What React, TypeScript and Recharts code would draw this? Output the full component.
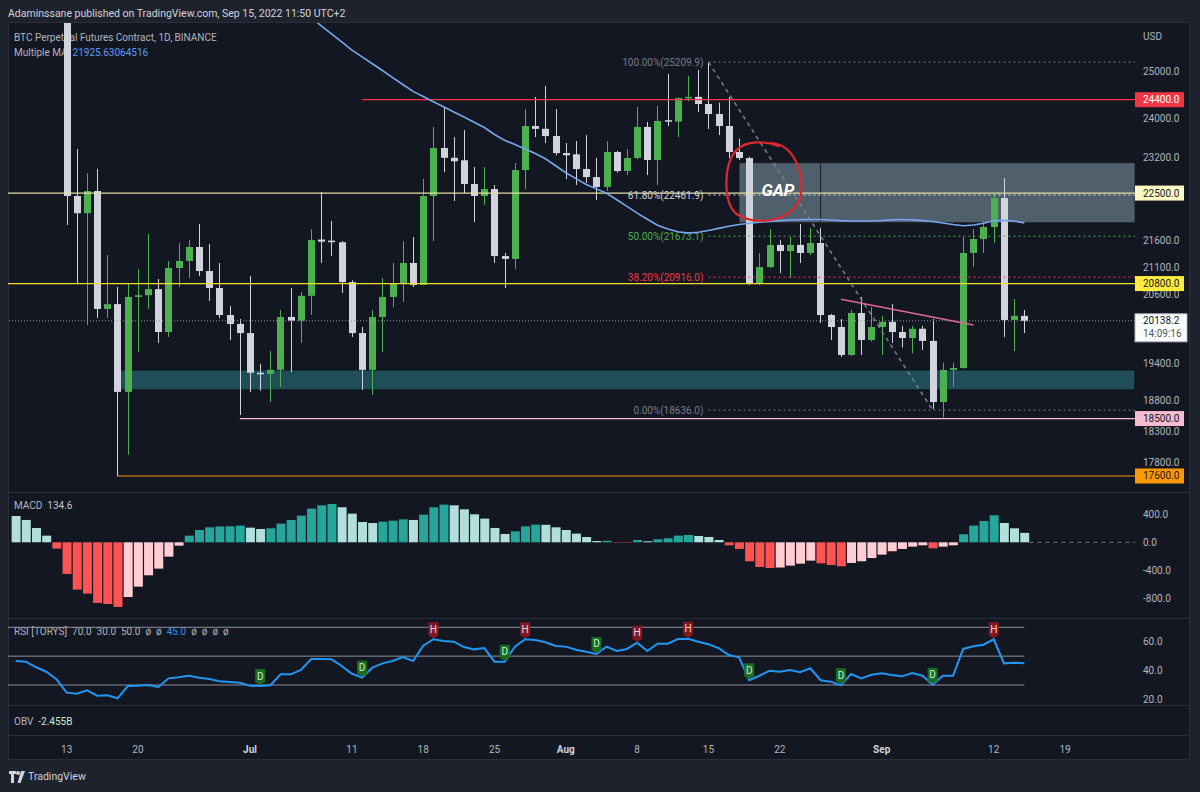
import React from "react";
import {
  ComposedChart,
  Bar,
  Line,
  XAxis,
  YAxis,
  ReferenceLine,
  ReferenceArea,
  ReferenceDot,
  Cell,
} from "recharts";

// one slot per day, slot 0 = 8 Jun 2022, candles start at 13 Jun (slot 5)
const candleStart = 5;

const opens = [
  26574, 22443, 22110, 22540, 20347, 20432, 18933, 20560, 20590, 20700, 19943, 21083, 21212, 21471, 21028,
  20720, 20240, 20083, 19925, 19250, 19230, 19300, 20205, 20140, 20580, 21610, 21590, 21560, 20827, 19925,
  19298, 20205, 20560, 20810, 21176, 20775, 22443, 23397, 23200, 23150, 22677, 22443, 22579, 21303, 21250,
  22954, 23849, 23790, 23642, 23295, 23270, 22975, 22814, 22620, 23317, 22935, 23195, 23830, 23155, 23970,
  23940, 24430, 24460, 24309, 24099, 23849, 23317, 23195, 20810, 21100, 21510, 21395, 21510, 21360, 21546,
  20240, 20030, 19550, 20275, 19805, 20030, 20120, 19943, 19840, 20000, 19790, 18767, 19298, 19330, 21360,
  21620, 21847, 22403, 20153, 20225,
];
const highs = [
  26895, 23378, 22895, 22975, 21322, 20738, 20810, 21065, 21715, 20883, 21212, 21546, 21600, 21905, 21525,
  21176, 20400, 20170, 20938, 19400, 19616, 20328, 20720, 20648, 21808, 22520, 21962, 21580, 20860, 20030,
  20328, 20900, 21176, 21580, 21658, 22776, 23828, 24245, 23620, 23765, 23015, 23015, 22660, 21360, 23095,
  24203, 24457, 24692, 24203, 23500, 23540, 23662, 23200, 23540, 23340, 23380, 24245, 23933, 24268, 24950,
  24450, 24907, 25037, 25210, 24340, 24457, 23590, 23220, 21360, 21808, 21600, 21658, 21905, 21827, 21827,
  20260, 20170, 20328, 20560, 20380, 20225, 20432, 20050, 20050, 20050, 20170, 19420, 19420, 21658, 21808,
  21960, 22500, 22795, 20523, 20328,
];
const lows = [
  21885, 20810, 20065, 20188, 20188, 17600, 17925, 19600, 20347, 19755, 19858, 20738, 20900, 20938, 20488,
  20188, 19805, 18558, 18933, 18950, 18767, 19015, 19263, 19755, 20240, 21176, 21303, 20631, 19858, 18966,
  18883, 19600, 20380, 20470, 20738, 20770, 21580, 22915, 22345, 22500, 21943, 22268, 21176, 20720, 21065,
  22579, 23620, 23500, 23250, 22776, 22660, 22700, 22365, 22540, 22900, 22855, 23170, 22855, 22660, 23849,
  23620, 24370, 24140, 23787, 23662, 23195, 23155, 20775, 20775, 21080, 20990, 20900, 21176, 21322, 20100,
  19805, 19515, 19530, 19550, 19780, 19550, 19755, 19675, 19580, 19636, 18650, 18517, 19015, 19320, 21100,
  21360, 21546, 19858, 19616, 19925,
];
const closes = [
  22443, 22110, 22540, 20347, 20432, 18933, 20560, 20590, 20700, 19943, 21083, 21212, 21471, 21028, 20720,
  20240, 20083, 19925, 19250, 19230, 19300, 20205, 20140, 20580, 21600, 21570, 21560, 20827, 19925, 19298,
  20205, 20560, 20810, 21176, 20775, 22443, 23397, 23200, 23130, 22677, 22443, 22579, 21303, 21250, 22954,
  23849, 23790, 23642, 23295, 23250, 22975, 22814, 22620, 23317, 22935, 23195, 23830, 23155, 23953, 23940,
  24435, 24460, 24309, 24099, 23849, 23317, 23195, 20810, 21100, 21510, 21395, 21510, 21360, 21546, 20240,
  20030, 19550, 20275, 19805, 20030, 20120, 19943, 19840, 20000, 19790, 18767, 19298, 19330, 21360, 21620,
  21847, 22403, 20153, 20225, 20138,
];

// Multiple MA, from slot 28 (6 Jul)
const maStart = 28;
const maValues = [
  26383, 26198, 26016, 25836, 25658, 25473, 25323, 25174, 25026, 24874, 24724, 24576, 24467, 24357, 24250,
  24142, 24035, 23927, 23817, 23674, 23554, 23467, 23378, 23285, 23180, 23040, 22900, 22783, 22667, 22582,
  22495, 22371, 22242, 22113, 21994, 21881, 21811, 21758, 21732, 21749, 21780, 21821, 21862, 21893, 21918,
  21937, 21952, 21968, 21980, 21987, 21991, 21989, 21980, 21968, 21961, 21961, 21961, 21970, 21983, 21991,
  21983, 21968, 21952, 21924, 21893, 21872, 21886, 21918, 21964, 21973, 21961, 21926,
];

// MACD histogram, slot 0..99
const macdHist = [
  376, 319, 205, 95, -90, -452, -676, -733, -866, -881, -923, -781, -633, -471, -376, -205, -48, 95, 176, 214,
  226, 229, 238, 209, 190, 200, 267, 319, 381, 481, 528, 547, 500, 409, 290, 276, 295, 309, 328, 319,
  395, 500, 538, 528, 471, 400, 338, 205, 119, 157, 228, 252, 250, 214, 176, 124, 76, 18, 22, -5,
  -6, 33, 14, 43, 57, 95, 105, 90, 76, 33, -43, -95, -271, -352, -367, -360, -333, -305, -262, -300,
  -324, -343, -295, -271, -224, -176, -128, -95, -62, -43, -86, -62, -43, 114, 238, 305, 386, 276, 200, 135,
];

// RSI [TORYS], slot 0..99
const rsiValues = [
  46.6, 46.2, 42.3, 39.2, 34.0, 24.7, 24.0, 26.3, 22.6, 22.9, 20.8, 29.3, 29.5, 30.0, 28.6, 34.6, 35.3, 36.4,
  35.1, 34.2, 32.6, 32.1, 31.6, 29.5, 29.3, 29.8, 37.4, 37.4, 40.4, 48.0, 48.0, 47.8, 43.2, 37.8, 35.1, 42.0,
  45.0, 46.6, 49.4, 46.6, 57.3, 61.7, 60.5, 60.0, 56.3, 54.7, 55.6, 46.2, 46.2, 56.6, 61.7, 61.2, 59.6, 57.0,
  56.6, 54.5, 53.1, 51.5, 56.6, 53.6, 55.0, 59.3, 53.6, 58.6, 58.6, 61.9, 62.1, 60.0, 58.2, 55.6, 50.8, 49.2,
  33.3, 36.4, 39.9, 39.2, 40.4, 38.8, 41.6, 33.3, 32.3, 29.8, 37.6, 34.6, 37.1, 38.1, 36.9, 36.0, 38.3, 36.4,
  30.2, 36.4, 36.4, 55.0, 56.8, 57.9, 61.7, 45.0, 45.5, 45.0,
];
const rsiHighs = [41, 50, 61, 66, 96];
const rsiDips = [24, 34, 48, 57, 72, 81, 90];

const xTickIdx = [5, 12, 23, 33, 40, 47, 54, 61, 68, 75, 85, 96, 103];
const xTickLabels = ["13", "20", "Jul", "11", "18", "25", "Aug", "8", "15", "22", "Sep", "12", "19"];

const priceTicks = [25000, 24000, 23200, 21600, 21100, 20600, 19400, 18800, 18300, 17800];
const levels = [24400, 22500, 20800, 18500, 17600];
const lastPrice = 20138.2;
const countdown = "14:09:16";

const fibValues = [25209.9, 22461.9, 21673.1, 20916.0, 18636.0];
const fibRatios = ["100.00%", "61.80%", "50.00%", "38.20%", "0.00%"];

const macdTicks = [400, 0, -400, -800];
const rsiTicks = [60, 40, 20];

// layout / style
const X_MIN = -0.756;
const X_MAX = 109.865;
const PRICE_DOMAIN = [17357, 26080];
const FONT = "Roboto, 'Liberation Sans', sans-serif";
const BG = "#131722";
const OUTER = "#1e222d";
const LINE = "#2a2e39";
const TEXT = "#b2b5be";
const UP = "#4caf50";
const DOWN = "#d1d4dc";

const levelStyle: Record<number, { line: string; bg: string; fg: string; from: number }> = {
  24400: { line: "#f23645", bg: "#f23645", fg: "#ffffff", from: 34 },
  22500: { line: "#e3dfa6", bg: "#fff9c4", fg: "#131722", from: X_MIN },
  20800: { line: "#f2dd2e", bg: "#ffeb3b", fg: "#131722", from: X_MIN },
  18500: { line: "#f8bbd0", bg: "#f8bbd0", fg: "#131722", from: 22 },
  17600: { line: "#ff9800", bg: "#ff9800", fg: "#131722", from: 10 },
};
const fibColors = ["#787b86", "#d1d4dc", "#4caf50", "#f23645", "#787b86"];

const rows = Array.from({ length: 110 }, (_, i) => {
  const k = i - candleStart;
  const has = k >= 0 && k < opens.length;
  const m = i - maStart;
  return {
    i,
    o: has ? opens[k] : null,
    h: has ? highs[k] : null,
    l: has ? lows[k] : null,
    c: has ? closes[k] : null,
    range: has ? [lows[k], highs[k]] : null,
    ma: m >= 0 && m < maValues.length ? maValues[m] : null,
    macd: i < macdHist.length ? macdHist[i] : null,
    rsi: i < rsiValues.length ? rsiValues[i] : null,
  };
});

function histColor(i: number) {
  const v = macdHist[i];
  const prev = i > 0 ? macdHist[i - 1] : v;
  if (v >= 0) return v > prev ? "#26a69a" : "#b2dfdb";
  return v < prev ? "#ff5252" : "#ffcdd2";
}

function Candle(props: any) {
  const { x, y, width, height, payload } = props;
  if (!payload || payload.o == null) return <g />;
  const { o, h, l, c } = payload;
  const span = Math.log(h) - Math.log(l);
  const k = span > 0 ? height / span : 0;
  const py = (p: number) => y + (Math.log(h) - Math.log(p)) * k;
  const cx = Math.round(x + width / 2);
  const col = c > o ? UP : DOWN;
  const top = py(Math.max(o, c));
  const bot = py(Math.min(o, c));
  return (
    <g>
      <line x1={cx + 0.5} x2={cx + 0.5} y1={y} y2={y + height} stroke={col} strokeWidth={1} />
      <rect x={cx - 3} y={top} width={7} height={Math.max(1.5, bot - top)} fill={col} />
    </g>
  );
}

function PriceTick(props: any) {
  const { x, y, payload } = props;
  const v = payload.value as number;
  if (v === lastPrice) {
    return (
      <g>
        <rect x={x - 8} y={y - 7} width={52} height={28} fill="#ffffff" stroke="#b2b5be" />
        <text x={x} y={y + 3.5} fill="#131722" fontSize={10} fontFamily={FONT}>{v.toFixed(1)}</text>
        <text x={x} y={y + 16.5} fill="#50535e" fontSize={10} fontFamily={FONT}>{countdown}</text>
      </g>
    );
  }
  const st = levelStyle[v];
  if (st) {
    return (
      <g>
        <rect x={x - 8} y={y - 7.5} width={49} height={15} fill={st.bg} />
        <text x={x} y={y + 3.5} fill={st.fg} fontSize={10} fontFamily={FONT}>{v.toFixed(1)}</text>
      </g>
    );
  }
  return (
    <text x={x} y={y + 3.5} fill={TEXT} fontSize={10} fontFamily={FONT}>{v.toFixed(1)}</text>
  );
}

function PlainTick(props: any) {
  const { x, y, payload } = props;
  return (
    <text x={x} y={y + 3.5} fill={TEXT} fontSize={10} fontFamily={FONT}>
      {Number(payload.value).toFixed(1)}
    </text>
  );
}

function DateTick(props: any) {
  const { x, y, payload } = props;
  const label = xTickLabels[xTickIdx.indexOf(payload.value)];
  const month = isNaN(Number(label));
  return (
    <text x={x} y={y + 47} textAnchor="middle" fill={month ? "#d1d4dc" : TEXT}
      fontWeight={month ? 700 : 400} fontSize={10} fontFamily={FONT}>
      {label}
    </text>
  );
}

function FibLabel(props: any) {
  const { viewBox, text, color } = props;
  if (!viewBox) return null;
  return (
    <text x={viewBox.x - 5} y={viewBox.y + 3.5} textAnchor="end" fill={color} fontSize={10} fontFamily={FONT}>
      {text}
    </text>
  );
}

function GapMark(props: any) {
  const { cx, cy } = props;
  const d = `M${cx + 6},${cy - 41} C${cx + 30},${cy - 40} ${cx + 40},${cy - 10} ${cx + 36},${cy + 12}
    C${cx + 30},${cy + 36} ${cx - 6},${cy + 44} ${cx - 28},${cy + 30}
    C${cx - 42},${cy + 18} ${cx - 41},${cy - 20} ${cx - 28},${cy - 34}
    C${cx - 18},${cy - 44} ${cx + 2},${cy - 43} ${cx + 14},${cy - 38}`;
  return (
    <g>
      <path d={d} fill="none" stroke="#e0262e" strokeWidth={2.2} strokeLinecap="round" />
      <text x={cx - 3} y={cy + 12} fill="#ffffff" fontSize={17} fontWeight={700} fontStyle="italic" fontFamily={FONT}>
        GAP
      </text>
    </g>
  );
}

function RsiDot(props: any) {
  const { cx, cy, index } = props;
  const isH = rsiHighs.includes(index);
  const isD = rsiDips.includes(index);
  if ((!isH && !isD) || cx == null || cy == null) return <g key={index} />;
  const bg = isH ? "#801a22" : "#1b6b24";
  const fg = isH ? "#ffcdd2" : "#c8f0c8";
  return (
    <g key={index}>
      <path d={`M${cx - 5},${cy - 17} h10 v13 l-5,3 l-5,-3 z`} fill={bg} />
      <text x={cx} y={cy - 6.5} textAnchor="middle" fill={fg} fontSize={10} fontFamily={FONT}>
        {isH ? "H" : "D"}
      </text>
    </g>
  );
}

const abs = (left: number, top: number, extra: React.CSSProperties = {}): React.CSSProperties => ({
  position: "absolute",
  left,
  top,
  ...extra,
});

export default function App() {
  const priceX = <XAxis dataKey="i" type="number" domain={[X_MIN, X_MAX]} allowDataOverflow hide />;
  return (
    <div style={abs(0, 0, { width: 1200, height: 792, background: OUTER, overflow: "hidden", fontFamily: FONT })}>
      <div style={abs(8, 7, { fontSize: 10.5, color: "#d1d4dc", lineHeight: "14px" })}>
        Adaminssane published on TradingView.com, Sep 15, 2022 11:50 UTC+2
      </div>

      {/* chart frame and pane separators */}
      <div style={abs(8, 22, { width: 1182, height: 738, background: BG, border: `1px solid ${LINE}`, boxSizing: "border-box" })} />
      {[492, 618, 705, 735].map((y) => (
        <div key={y} style={abs(8, y, { width: 1182, height: 1, background: LINE })} />
      ))}

      {/* legends, under the series */}
      <div style={abs(14, 31, { fontSize: 10, color: TEXT, lineHeight: "14px" })}>
        BTC Perpetual Futures Contract, 1D, BINANCE
      </div>
      <div style={abs(14, 46, { fontSize: 10, color: TEXT, lineHeight: "14px" })}>
        Multiple MA&nbsp;&nbsp;<span style={{ color: "#5b9cf6" }}>21925.63064516</span>
      </div>
      <div style={abs(1143, 30, { fontSize: 10, color: TEXT, lineHeight: "14px" })}>USD</div>
      <div style={abs(14, 499, { fontSize: 10, color: TEXT, lineHeight: "14px" })}>
        MACD&nbsp;&nbsp;<span style={{ color: "#c5c8d0" }}>134.6</span>
      </div>
      <div style={abs(14, 625, { fontSize: 10, color: TEXT, lineHeight: "14px", whiteSpace: "pre" })}>
        {"RSI [TORYS]  70.0  30.0  50.0  ø  ø  "}
        <span style={{ color: "#2196f3" }}>45.0</span>
        {"  ø  ø  ø  ø"}
      </div>
      <div style={abs(14, 715, { fontSize: 10, color: TEXT, lineHeight: "14px" })}>
        OBV&nbsp;&nbsp;<span style={{ color: "#cfe8cf" }}>-2.455B</span>
      </div>

      {/* zone boxes, drawn under the candles */}
      <div style={abs(8, 23)}>
        <ComposedChart width={1182} height={469} data={rows} margin={{ top: 0, right: 0, bottom: 0, left: 0 }}>
          {priceX}
          <YAxis orientation="right" width={55} scale="log" domain={PRICE_DOMAIN} allowDataOverflow
            tick={false} axisLine={false} tickLine={false} />
          <ReferenceArea x1={10} x2={X_MAX} y1={18966} y2={19298} fill="#1f4d58" fillOpacity={1} stroke="#0b0e14" strokeWidth={1} />
          <ReferenceArea x1={71} x2={X_MAX} y1={21928} y2={23101} fill="#78909c" fillOpacity={0.6} stroke="#1a1e26" strokeWidth={1} />
          <ReferenceLine segment={[{ x: 79, y: 23101 }, { x: 79, y: 21928 }]} stroke="#1a1e26" strokeWidth={1} />
        </ComposedChart>
      </div>

      {/* price pane */}
      <div style={abs(8, 23)}>
        <ComposedChart width={1182} height={469} data={rows} margin={{ top: 0, right: 0, bottom: 0, left: 0 }}>
          {priceX}
          <YAxis
            orientation="right"
            width={55}
            scale="log"
            domain={PRICE_DOMAIN}
            allowDataOverflow
            ticks={[...priceTicks, ...levels, lastPrice]}
            interval={0}
            tick={<PriceTick />}
            tickSize={0}
            tickMargin={8}
            axisLine={false}
            tickLine={false}
          />
          {levels.map((v) => (
            <ReferenceLine key={v} segment={[{ x: levelStyle[v].from, y: v }, { x: X_MAX, y: v }]}
              stroke={levelStyle[v].line} strokeWidth={1.2} />
          ))}
          <ReferenceLine y={lastPrice} stroke="#9598a1" strokeDasharray="1 2" strokeWidth={1} />

          {fibValues.map((v, n) => (
            <ReferenceLine key={v} segment={[{ x: 68, y: v }, { x: X_MAX, y: v }]}
              stroke={fibColors[n]} strokeDasharray="2 3" strokeWidth={1}
              label={<FibLabel text={`${fibRatios[n]}(${v.toFixed(1)})`} color={fibColors[n]} />} />
          ))}
          <ReferenceLine segment={[{ x: 68, y: fibValues[0] }, { x: 90, y: fibValues[4] }]}
            stroke="#7d808a" strokeDasharray="4 4" strokeWidth={1.5} />
          <ReferenceLine segment={[{ x: 81, y: 20518 }, { x: 94, y: 20065 }]} stroke="#e0679a" strokeWidth={1.5} />

          <Bar dataKey="range" barSize={8} shape={<Candle />} isAnimationActive={false} />
          <Line dataKey="ma" stroke="#79a6ec" strokeWidth={1.6} dot={false} isAnimationActive={false} connectNulls={false} />
          <ReferenceDot x={73.5} y={22678} r={1} shape={<GapMark />} />
        </ComposedChart>
      </div>

      {/* MACD pane */}
      <div style={abs(8, 493)}>
        <ComposedChart width={1182} height={125} data={rows} margin={{ top: 0, right: 0, bottom: 0, left: 0 }}>
          <XAxis dataKey="i" type="number" domain={[X_MIN, X_MAX]} allowDataOverflow hide />
          <YAxis orientation="right" width={55} domain={[-1081, 704]} allowDataOverflow ticks={macdTicks}
            interval={0} tick={<PlainTick />} tickSize={0} tickMargin={8} axisLine={false} tickLine={false} />
          <ReferenceLine segment={[{ x: 99.5, y: 0 }, { x: X_MAX, y: 0 }]} stroke="#787b86" strokeDasharray="4 4" />
          <Bar dataKey="macd" barSize={9} isAnimationActive={false}>
            {rows.map((r) => (
              <Cell key={r.i} fill={r.i < macdHist.length ? histColor(r.i) : "transparent"} />
            ))}
          </Bar>
        </ComposedChart>
      </div>

      {/* RSI pane + time axis */}
      <div style={abs(8, 619)}>
        <ComposedChart width={1182} height={141} data={rows} margin={{ top: 0, right: 0, bottom: 0, left: 0 }}>
          <XAxis dataKey="i" type="number" domain={[X_MIN, X_MAX]} allowDataOverflow ticks={xTickIdx}
            interval={0} height={54} tick={<DateTick />} tickSize={0} tickMargin={0} axisLine={false} tickLine={false} />
          <YAxis orientation="right" width={55} domain={[15.44, 75.75]} allowDataOverflow ticks={rsiTicks}
            interval={0} tick={<PlainTick />} tickSize={0} tickMargin={8} axisLine={false} tickLine={false} />
          {[70, 50, 30].map((v) => (
            <ReferenceLine key={v} segment={[{ x: X_MIN, y: v }, { x: 99, y: v }]} stroke="#8f929b" strokeWidth={1} />
          ))}
          <Line dataKey="rsi" stroke="#2196f3" strokeWidth={2} dot={RsiDot} activeDot={false}
            isAnimationActive={false} connectNulls={false} />
        </ComposedChart>
      </div>

      {/* footer */}
      <svg style={abs(9, 771)} width={16} height={12} viewBox="0 0 16 12">
        <path d="M0 0h7v3H5v9H2V3H0z" fill="#d1d4dc" />
        <circle cx={9} cy={2} r={2} fill="#d1d4dc" />
        <path d="M12 0h4l-4.5 12H8.5z" fill="#d1d4dc" />
      </svg>
      <div style={abs(28, 770, { fontSize: 10.5, color: "#d1d4dc", lineHeight: "14px" })}>TradingView</div>
    </div>
  );
}
